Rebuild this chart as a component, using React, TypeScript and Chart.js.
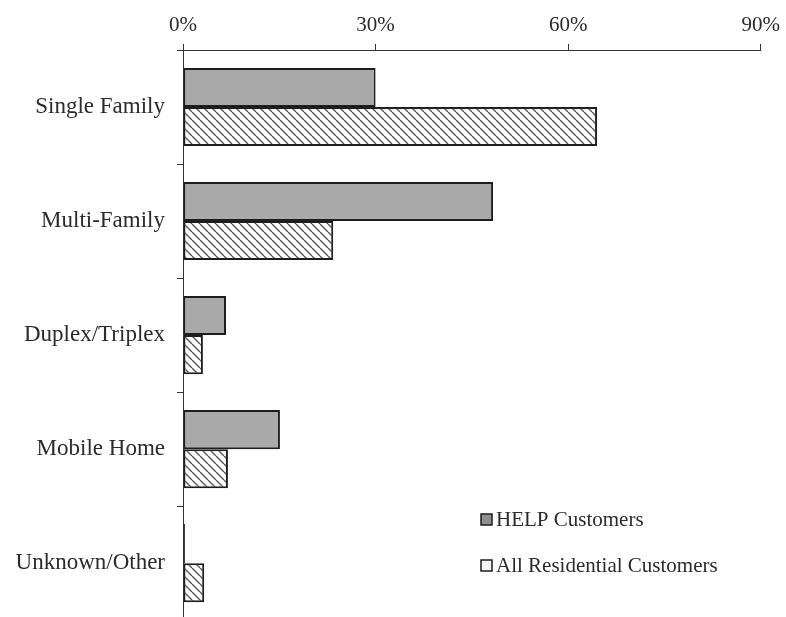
import React, { useEffect, useRef } from "react";
import { Chart, registerables } from "chart.js";

Chart.register(...registerables);

const categories = ["Single Family", "Multi-Family", "Duplex/Triplex", "Mobile Home", "Unknown/Other"];
const helpCustomers = [30, 48.3, 6.7, 15.1, 0.3];
const allResidential = [64.5, 23.4, 3.1, 7.0, 3.3];
const seriesLabels = ["HELP Customers", "All Residential Customers"];
const xTicks = [0, 30, 60, 90];

const FONT = '"Liberation Serif", "Times New Roman", serif';
const TEXT = "#2b2b2b";
const LINE = "#333333";

function makeHatch(): CanvasPattern | string {
  const s = 8;
  const c = document.createElement("canvas");
  c.width = s;
  c.height = s;
  const ctx = c.getContext("2d");
  if (!ctx) return "#ffffff";
  ctx.fillStyle = "#ffffff";
  ctx.fillRect(0, 0, s, s);
  ctx.strokeStyle = "#5a5a5a";
  ctx.lineWidth = 1.4;
  for (const x of [-s, 0, s]) {
    ctx.beginPath();
    ctx.moveTo(x, 0);
    ctx.lineTo(x + s, s);
    ctx.stroke();
  }
  const p = ctx.createPattern(c, "repeat");
  return p || "#ffffff";
}

const legendPlugin = {
  id: "customLegend",
  afterDraw(chart: any) {
    const ctx = chart.ctx;
    const area = chart.chartArea;
    const x = area.left + 298;
    const ys = [519, 565];
    ctx.save();
    ctx.font = `21px ${FONT}`;
    ctx.textBaseline = "middle";
    chart.data.datasets.forEach((ds: any, i: number) => {
      const y = ys[i];
      ctx.fillStyle = i === 0 ? "#8f8f8f" : "#f4f4f4";
      ctx.fillRect(x, y - 5, 11, 11);
      ctx.strokeStyle = "#1e1e1e";
      ctx.lineWidth = 1.5;
      ctx.strokeRect(x, y - 5, 11, 11);
      ctx.fillStyle = TEXT;
      ctx.fillText(ds.label, x + 15, y + 1);
    });
    ctx.restore();
  },
};

export default function App() {
  const ref = useRef<HTMLCanvasElement | null>(null);
  useEffect(() => {
    if (!ref.current) return;
    const hatch = makeHatch();
    const chart = new Chart(ref.current, {
      type: "bar",
      data: {
        labels: categories,
        datasets: [
          {
            label: seriesLabels[0],
            data: helpCustomers,
            backgroundColor: "#a9a9a9",
            borderColor: "#1e1e1e",
            borderWidth: 2,
            borderSkipped: false,
            categoryPercentage: 0.685,
            barPercentage: 1.0,
          },
          {
            label: seriesLabels[1],
            data: allResidential,
            backgroundColor: hatch as any,
            borderColor: "#1e1e1e",
            borderWidth: 2,
            borderSkipped: false,
            categoryPercentage: 0.685,
            barPercentage: 1.0,
          },
        ],
      },
      options: {
        indexAxis: "y",
        responsive: false,
        animation: false,
        devicePixelRatio: 1,
        layout: { padding: { left: 0, right: 25, top: 0, bottom: 10 } },
        plugins: {
          legend: { display: false },
          tooltip: { enabled: false },
        },
        scales: {
          x: {
            position: "top",
            min: xTicks[0],
            max: xTicks[xTicks.length - 1],
            afterBuildTicks: (scale: any) => {
              scale.ticks = xTicks.map((v) => ({ value: v }));
            },
            afterFit: (scale: any) => {
              scale.height = 50;
            },
            ticks: {
              callback: (v: any) => `${v}%`,
              font: { family: FONT, size: 21 },
              color: TEXT,
              padding: 6,
              maxRotation: 0,
            },
            grid: {
              drawOnChartArea: false,
              drawTicks: true,
              tickLength: 6,
              color: LINE,
              lineWidth: 1,
            },
            border: { display: true, color: LINE, width: 1 },
          },
          y: {
            afterFit: (scale: any) => {
              scale.width = 183;
            },
            ticks: {
              font: { family: FONT, size: 23 },
              color: TEXT,
              padding: 12,
            },
            grid: {
              drawOnChartArea: false,
              drawTicks: true,
              tickLength: 6,
              color: LINE,
              lineWidth: 1,
            },
            border: { display: true, color: LINE, width: 1 },
          },
        },
      },
      plugins: [legendPlugin],
    } as any);
    return () => chart.destroy();
  }, []);
  return (
    <div style={{ position: "fixed", left: 0, top: 0, width: 786, height: 646, background: "#fff" }}>
      <canvas ref={ref} width={786} height={646} style={{ display: "block" }} />
    </div>
  );
}
